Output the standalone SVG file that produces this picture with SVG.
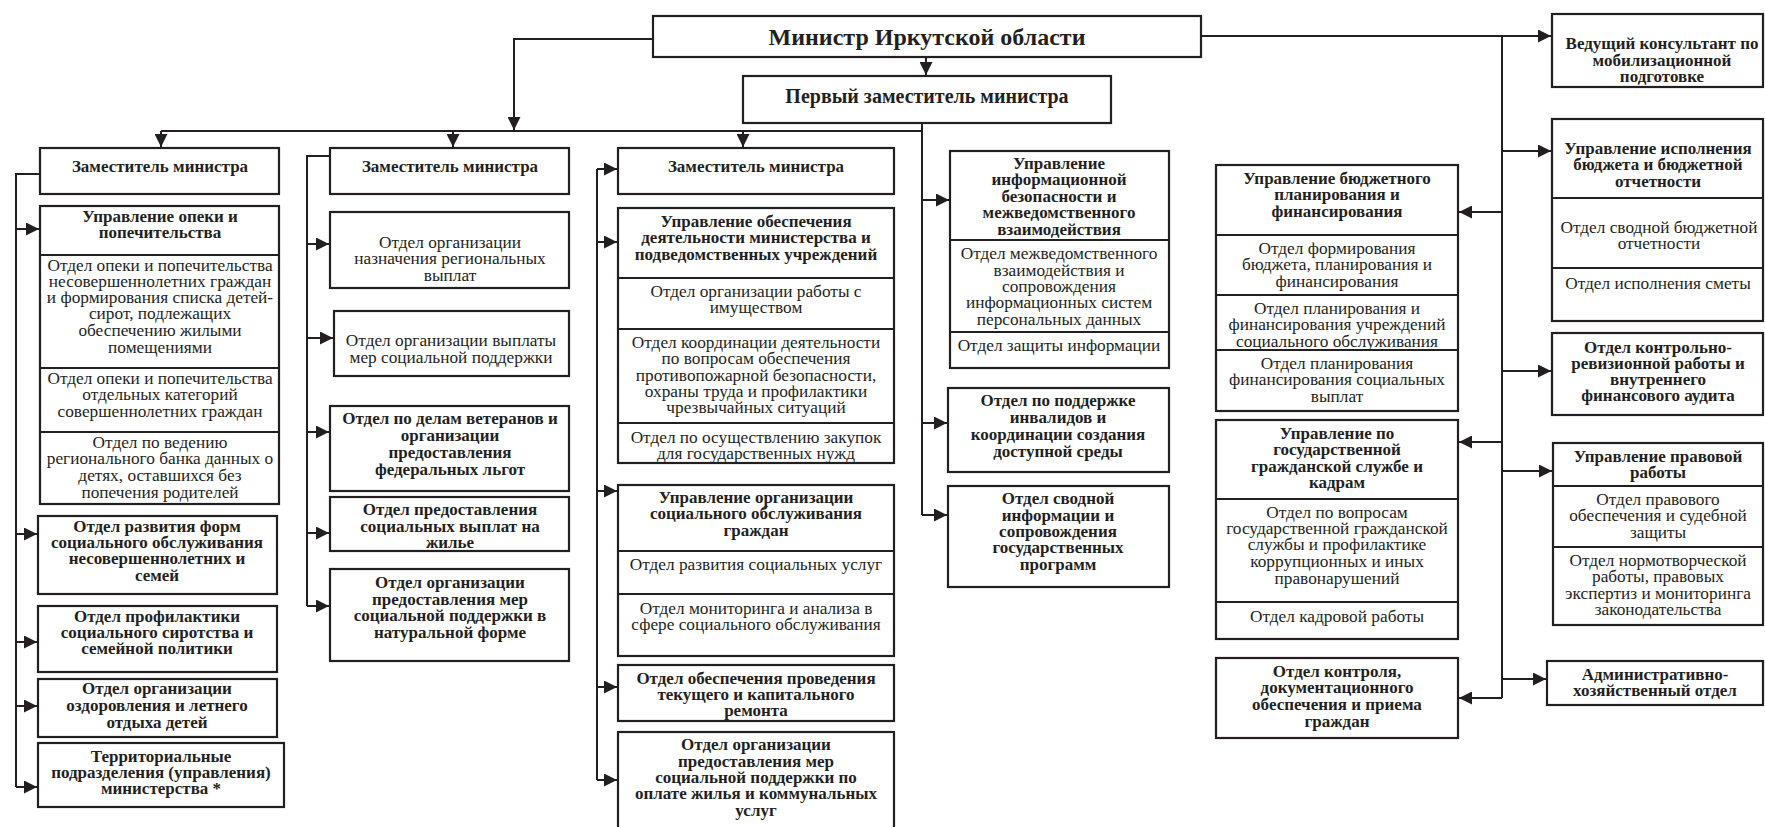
<svg xmlns="http://www.w3.org/2000/svg" width="1765" height="827" viewBox="0 0 1765 827">
<style>
.b{fill:#fff;stroke:#231f20;stroke-width:2.2}
.d{fill:none;stroke:#231f20;stroke-width:2.2}
.c{fill:none;stroke:#231f20;stroke-width:2}
text{font-family:"Liberation Serif","Times New Roman","DejaVu Serif",serif;font-size:17.3px;fill:#231f20;text-anchor:middle;dominant-baseline:central}
.tb{font-weight:bold;font-size:17px}
.tm{font-size:24px}
.tf{font-size:20px}
</style>
<defs>
<marker id="ar" viewBox="0 0 10 10" refX="10" refY="5" markerWidth="14" markerHeight="13" markerUnits="userSpaceOnUse" orient="auto">
<path d="M0,0 L10,5 L0,10 z" fill="#231f20"/>
</marker>
</defs>
<rect width="1765" height="827" fill="#fff"/>

<g id="connectors">
<path class="c" d="M653 39 H514 V130" marker-end="url(#ar)"/>
<path class="c" d="M926 57 V75" marker-end="url(#ar)"/>
<path class="c" d="M161 131 H922"/>
<path class="c" d="M922 123 V515"/>
<path class="c" d="M161 131 V147" marker-end="url(#ar)"/>
<path class="c" d="M453 131 V147" marker-end="url(#ar)"/>
<path class="c" d="M743 131 V147" marker-end="url(#ar)"/>
<path class="c" d="M40 174 H16 V787"/>
<path class="c" d="M16 229 H39" marker-end="url(#ar)"/>
<path class="c" d="M16 534 H37" marker-end="url(#ar)"/>
<path class="c" d="M16 642 H37" marker-end="url(#ar)"/>
<path class="c" d="M16 706 H37" marker-end="url(#ar)"/>
<path class="c" d="M16 787 H37" marker-end="url(#ar)"/>
<path class="c" d="M330 156 H307 V606"/>
<path class="c" d="M307 244 H329" marker-end="url(#ar)"/>
<path class="c" d="M307 338 H333" marker-end="url(#ar)"/>
<path class="c" d="M307 432 H329" marker-end="url(#ar)"/>
<path class="c" d="M307 533 H329" marker-end="url(#ar)"/>
<path class="c" d="M307 606 H329" marker-end="url(#ar)"/>
<path class="c" d="M597 169 V780"/>
<path class="c" d="M597 169 H617" marker-end="url(#ar)"/>
<path class="c" d="M597 242 H617" marker-end="url(#ar)"/>
<path class="c" d="M597 491 H617" marker-end="url(#ar)"/>
<path class="c" d="M597 687 H617" marker-end="url(#ar)"/>
<path class="c" d="M597 780 H617" marker-end="url(#ar)"/>
<path class="c" d="M922 200 H949" marker-end="url(#ar)"/>
<path class="c" d="M922 423 H947" marker-end="url(#ar)"/>
<path class="c" d="M922 515 H947" marker-end="url(#ar)"/>
<path class="c" d="M1201 36 H1551" marker-end="url(#ar)"/>
<path class="c" d="M1502 36 V698"/>
<path class="c" d="M1502 151 H1551" marker-end="url(#ar)"/>
<path class="c" d="M1502 371 H1551" marker-end="url(#ar)"/>
<path class="c" d="M1502 471 H1552" marker-end="url(#ar)"/>
<path class="c" d="M1502 679 H1546" marker-end="url(#ar)"/>
<path class="c" d="M1502 212 H1459" marker-end="url(#ar)"/>
<path class="c" d="M1502 442 H1459" marker-end="url(#ar)"/>
<path class="c" d="M1502 698 H1459" marker-end="url(#ar)"/>
</g>

<g id="minister">
<rect class="b" x="653" y="16" width="548" height="41" stroke-width="3"/>
<text class="tb tm" x="927" y="37">Министр Иркутской области</text>
</g>
<g id="first-deputy">
<rect class="b" x="743" y="76" width="368" height="47"/>
<text class="tb tf" x="927" y="96">Первый заместитель министра</text>
</g>

<g id="deputy1">
<rect class="b" x="40" y="148" width="239" height="46"/>
<text class="tb" x="160" y="166">Заместитель министра</text>
</g>
<g id="opeka">
<rect class="b" x="40" y="206" width="239" height="298"/>
<path class="d" d="M40 255 H279 M40 368 H279 M40 432 H279"/>
<text class="tb"><tspan x="160" y="216">Управление опеки и</tspan><tspan x="160" y="232">попечительства</tspan></text>
<text><tspan x="160" y="265">Отдел опеки и попечительства</tspan><tspan x="160" y="281">несовершеннолетних граждан</tspan><tspan x="160" y="297">и формирования списка детей-</tspan><tspan x="160" y="313">сирот, подлежащих</tspan><tspan x="160" y="330">обеспечению жилыми</tspan><tspan x="160" y="347">помещениями</tspan></text>
<text><tspan x="160" y="378">Отдел опеки и попечительства</tspan><tspan x="160" y="394">отдельных категорий</tspan><tspan x="160" y="411">совершеннолетних граждан</tspan></text>
<text><tspan x="160" y="442">Отдел по ведению</tspan><tspan x="160" y="458">регионального банка данных о</tspan><tspan x="160" y="475">детях, оставшихся без</tspan><tspan x="160" y="492">попечения родителей</tspan></text>
</g>
<g id="razvitie-form">
<rect class="b" x="38" y="516" width="239" height="78"/>
<text class="tb"><tspan x="157" y="526">Отдел развития форм</tspan><tspan x="157" y="542">социального обслуживания</tspan><tspan x="157" y="558">несовершеннолетних и</tspan><tspan x="157" y="575">семей</tspan></text>
</g>
<g id="profilaktika">
<rect class="b" x="38" y="606" width="239" height="66"/>
<text class="tb"><tspan x="157" y="616">Отдел профилактики</tspan><tspan x="157" y="632">социального сиротства и</tspan><tspan x="157" y="648">семейной политики</tspan></text>
</g>
<g id="ozdorovlenie">
<rect class="b" x="38" y="679" width="239" height="58"/>
<text class="tb"><tspan x="157" y="688">Отдел организации</tspan><tspan x="157" y="705">оздоровления и летнего</tspan><tspan x="157" y="722">отдыха детей</tspan></text>
</g>
<g id="territorial">
<rect class="b" x="38" y="743" width="246" height="64"/>
<text class="tb"><tspan x="161" y="756">Территориальные</tspan><tspan x="161" y="772">подразделения (управления)</tspan><tspan x="161" y="788">министерства *</tspan></text>
</g>

<g id="deputy2">
<rect class="b" x="330" y="148" width="239" height="46"/>
<text class="tb" x="450" y="166">Заместитель министра</text>
</g>
<g id="naznachenie">
<rect class="b" x="330" y="212" width="239" height="76"/>
<text><tspan x="450" y="242">Отдел организации</tspan><tspan x="450" y="258">назначения региональных</tspan><tspan x="450" y="275">выплат</tspan></text>
</g>
<g id="vyplaty">
<rect class="b" x="334" y="311" width="235" height="65"/>
<text><tspan x="451" y="340">Отдел организации выплаты</tspan><tspan x="451" y="357">мер социальной поддержки</tspan></text>
</g>
<g id="veterany">
<rect class="b" x="330" y="406" width="239" height="85"/>
<text class="tb"><tspan x="450" y="418">Отдел по делам ветеранов и</tspan><tspan x="450" y="435">организации</tspan><tspan x="450" y="452">предоставления</tspan><tspan x="450" y="469">федеральных льгот</tspan></text>
</g>
<g id="zhilye">
<rect class="b" x="330" y="497" width="239" height="54"/>
<text class="tb"><tspan x="450" y="509">Отдел предоставления</tspan><tspan x="450" y="526">социальных выплат на</tspan><tspan x="450" y="542">жилье</tspan></text>
</g>
<g id="naturalnaya">
<rect class="b" x="330" y="569" width="239" height="92"/>
<text class="tb"><tspan x="450" y="582">Отдел организации</tspan><tspan x="450" y="599">предоставления мер</tspan><tspan x="450" y="615">социальной поддержки в</tspan><tspan x="450" y="632">натуральной форме</tspan></text>
</g>

<g id="deputy3">
<rect class="b" x="618" y="148" width="276" height="46"/>
<text class="tb" x="756" y="166">Заместитель министра</text>
</g>
<g id="obespechenie">
<rect class="b" x="618" y="208" width="276" height="255"/>
<path class="d" d="M618 278 H894 M618 329 H894 M618 423 H894"/>
<text class="tb"><tspan x="756" y="221">Управление обеспечения</tspan><tspan x="756" y="237">деятельности министерства и</tspan><tspan x="756" y="254">подведомственных учреждений</tspan></text>
<text><tspan x="756" y="291">Отдел организации работы с</tspan><tspan x="756" y="307">имуществом</tspan></text>
<text><tspan x="756" y="342">Отдел координации деятельности</tspan><tspan x="756" y="358">по вопросам обеспечения</tspan><tspan x="756" y="375">противопожарной безопасности,</tspan><tspan x="756" y="391">охраны труда и профилактики</tspan><tspan x="756" y="407">чрезвычайных ситуаций</tspan></text>
<text><tspan x="756" y="437">Отдел по осуществлению закупок</tspan><tspan x="756" y="453">для государственных нужд</tspan></text>
</g>
<g id="soc-obsl">
<rect class="b" x="618" y="485" width="276" height="171"/>
<path class="d" d="M618 551 H894 M618 594 H894"/>
<text class="tb"><tspan x="756" y="497">Управление организации</tspan><tspan x="756" y="513">социального обслуживания</tspan><tspan x="756" y="530">граждан</tspan></text>
<text><tspan x="756" y="564">Отдел развития социальных услуг</tspan></text>
<text><tspan x="756" y="608">Отдел мониторинга и анализа в</tspan><tspan x="756" y="624">сфере социального обслуживания</tspan></text>
</g>
<g id="remont">
<rect class="b" x="618" y="665" width="276" height="56"/>
<text class="tb"><tspan x="756" y="678">Отдел обеспечения проведения</tspan><tspan x="756" y="694">текущего и капитального</tspan><tspan x="756" y="710">ремонта</tspan></text>
</g>
<g id="oplata-zhilya">
<rect class="b" x="618" y="732" width="276" height="98"/>
<text class="tb"><tspan x="756" y="744">Отдел организации</tspan><tspan x="756" y="761">предоставления мер</tspan><tspan x="756" y="777">социальной поддержки по</tspan><tspan x="756" y="793">оплате жилья и коммунальных</tspan><tspan x="756" y="810">услуг</tspan></text>
</g>

<g id="infobez">
<rect class="b" x="950" y="151" width="219" height="217"/>
<path class="d" d="M950 240 H1169 M950 332 H1169"/>
<text class="tb"><tspan x="1059" y="163">Управление</tspan><tspan x="1059" y="179">информационной</tspan><tspan x="1059" y="196">безопасности и</tspan><tspan x="1059" y="212">межведомственного</tspan><tspan x="1059" y="229">взаимодействия</tspan></text>
<text><tspan x="1059" y="253">Отдел межведомственного</tspan><tspan x="1059" y="270">взаимодействия и</tspan><tspan x="1059" y="286">сопровождения</tspan><tspan x="1059" y="302">информационных систем</tspan><tspan x="1059" y="319">персональных данных</tspan></text>
<text><tspan x="1059" y="345">Отдел защиты информации</tspan></text>
</g>
<g id="invalidy">
<rect class="b" x="948" y="388" width="221" height="84"/>
<text class="tb"><tspan x="1058" y="400">Отдел по поддержке</tspan><tspan x="1058" y="417">инвалидов и</tspan><tspan x="1058" y="434">координации создания</tspan><tspan x="1058" y="451">доступной среды</tspan></text>
</g>
<g id="svodnaya-info">
<rect class="b" x="948" y="486" width="221" height="101"/>
<text class="tb"><tspan x="1058" y="498">Отдел сводной</tspan><tspan x="1058" y="515">информации и</tspan><tspan x="1058" y="531">сопровождения</tspan><tspan x="1058" y="547">государственных</tspan><tspan x="1058" y="564">программ</tspan></text>
</g>

<g id="budget-plan">
<rect class="b" x="1216" y="165" width="242" height="246"/>
<path class="d" d="M1216 235 H1458 M1216 295 H1458 M1216 350 H1458"/>
<text class="tb"><tspan x="1337" y="178">Управление бюджетного</tspan><tspan x="1337" y="194">планирования и</tspan><tspan x="1337" y="211">финансирования</tspan></text>
<text><tspan x="1337" y="248">Отдел формирования</tspan><tspan x="1337" y="264">бюджета, планирования и</tspan><tspan x="1337" y="281">финансирования</tspan></text>
<text><tspan x="1337" y="308">Отдел планирования и</tspan><tspan x="1337" y="324">финансирования учреждений</tspan><tspan x="1337" y="341">социального обслуживания</tspan></text>
<text><tspan x="1337" y="363">Отдел планирования</tspan><tspan x="1337" y="379">финансирования социальных</tspan><tspan x="1337" y="396">выплат</tspan></text>
</g>
<g id="kadry">
<rect class="b" x="1216" y="420" width="242" height="219"/>
<path class="d" d="M1216 499 H1458 M1216 602 H1458"/>
<text class="tb"><tspan x="1337" y="433">Управление по</tspan><tspan x="1337" y="449">государственной</tspan><tspan x="1337" y="466">гражданской службе и</tspan><tspan x="1337" y="482">кадрам</tspan></text>
<text><tspan x="1337" y="512">Отдел по вопросам</tspan><tspan x="1337" y="528">государственной гражданской</tspan><tspan x="1337" y="544">службы и профилактике</tspan><tspan x="1337" y="561">коррупционных и иных</tspan><tspan x="1337" y="578">правонарушений</tspan></text>
<text><tspan x="1337" y="616">Отдел кадровой работы</tspan></text>
</g>
<g id="kontrol">
<rect class="b" x="1216" y="658" width="242" height="80"/>
<text class="tb"><tspan x="1337" y="671">Отдел контроля,</tspan><tspan x="1337" y="687">документационного</tspan><tspan x="1337" y="704">обеспечения и приема</tspan><tspan x="1337" y="721">граждан</tspan></text>
</g>

<g id="mobilization">
<rect class="b" x="1552" y="14" width="211" height="73"/>
<text class="tb"><tspan x="1662" y="43">Ведущий консультант по</tspan><tspan x="1662" y="60">мобилизационной</tspan><tspan x="1662" y="76">подготовке</tspan></text>
</g>
<g id="ispolnenie">
<rect class="b" x="1552" y="119" width="211" height="202"/>
<path class="d" d="M1552 198 H1763 M1552 268 H1763"/>
<text class="tb"><tspan x="1658" y="148">Управление исполнения</tspan><tspan x="1658" y="164">бюджета и бюджетной</tspan><tspan x="1658" y="181">отчетности</tspan></text>
<text><tspan x="1659" y="227">Отдел сводной бюджетной</tspan><tspan x="1659" y="243">отчетности</tspan></text>
<text><tspan x="1658" y="283">Отдел исполнения сметы</tspan></text>
</g>
<g id="audit">
<rect class="b" x="1552" y="333" width="211" height="82"/>
<text class="tb"><tspan x="1658" y="347">Отдел контрольно-</tspan><tspan x="1658" y="363">ревизионной работы и</tspan><tspan x="1658" y="379">внутреннего</tspan><tspan x="1658" y="395">финансового аудита</tspan></text>
</g>
<g id="pravo">
<rect class="b" x="1553" y="443" width="210" height="182"/>
<path class="d" d="M1553 486 H1763 M1553 547 H1763"/>
<text class="tb"><tspan x="1658" y="456">Управление правовой</tspan><tspan x="1658" y="472">работы</tspan></text>
<text><tspan x="1658" y="499">Отдел правового</tspan><tspan x="1658" y="515">обеспечения и судебной</tspan><tspan x="1658" y="532">защиты</tspan></text>
<text><tspan x="1658" y="560">Отдел нормотворческой</tspan><tspan x="1658" y="576">работы, правовых</tspan><tspan x="1658" y="593">экспертиз и мониторинга</tspan><tspan x="1658" y="609">законодательства</tspan></text>
</g>
<g id="ahd">
<rect class="b" x="1547" y="661" width="216" height="44"/>
<text class="tb"><tspan x="1655" y="674">Административно-</tspan><tspan x="1655" y="690">хозяйственный отдел</tspan></text>
</g>
</svg>
